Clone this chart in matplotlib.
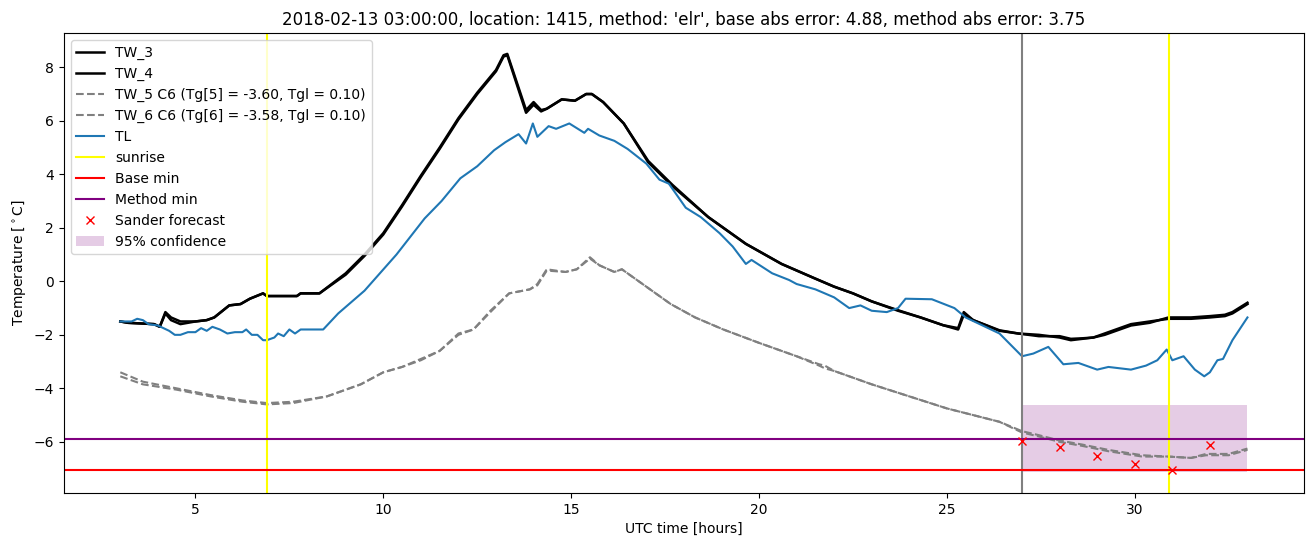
import matplotlib
matplotlib.use('Agg')
import matplotlib.pyplot as plt
import numpy as np

# TW_3 / TW_4 (black)
tw3_t = [3.0, 3.2, 3.9, 4.05, 4.2, 4.35, 4.6, 5.0, 5.3, 5.5, 5.9, 6.2, 6.45, 6.8, 6.9, 7.7, 7.8, 8.3,
         9.0, 9.5, 10.0, 10.5, 11.0, 11.5, 12.0, 12.5, 13.0, 13.2, 13.3, 13.8, 14.0, 14.2, 14.35, 14.75,
         15.1, 15.4, 15.55, 15.85, 16.4, 17.05, 17.7, 18.65, 19.65, 20.6, 21.5, 22.0, 22.5, 23.0, 23.7,
         24.3, 24.9, 25.3, 25.45, 25.7, 26.4, 26.9, 27.45, 28.0, 28.3, 28.6, 28.9, 29.2, 29.9, 30.4,
         30.9, 31.5, 32.0, 32.4, 32.6, 33.0]
tw3_v = [-1.5, -1.55, -1.6, -1.7, -1.15, -1.35, -1.5, -1.5, -1.45, -1.35, -0.9, -0.85, -0.65, -0.45,
         -0.55, -0.55, -0.45, -0.45, 0.3, 1.0, 1.8, 2.85, 3.95, 5.0, 6.1, 7.05, 7.9, 8.45, 8.5, 6.4, 6.7,
         6.4, 6.45, 6.8, 6.75, 7.0, 7.0, 6.7, 5.9, 4.5, 3.6, 2.4, 1.4, 0.65, 0.1, -0.2, -0.45, -0.75,
         -1.08, -1.35, -1.64, -1.75, -1.15, -1.45, -1.83, -1.95, -2.05, -2.05, -2.15, -2.13, -2.1, -2.0,
         -1.65, -1.55, -1.35, -1.35, -1.3, -1.25, -1.15, -0.8]
tw4_v = [-1.5, -1.55, -1.6, -1.7, -1.2, -1.45, -1.6, -1.5, -1.45, -1.35, -0.9, -0.85, -0.65, -0.45,
         -0.55, -0.55, -0.45, -0.45, 0.25, 0.95, 1.75, 2.8, 3.9, 4.95, 6.05, 7.0, 7.85, 8.4, 8.45, 6.3,
         6.6, 6.35, 6.45, 6.8, 6.75, 7.0, 7.0, 6.7, 5.9, 4.45, 3.55, 2.4, 1.4, 0.65, 0.1, -0.2, -0.45,
         -0.75, -1.1, -1.35, -1.64, -1.8, -1.25, -1.45, -1.85, -1.95, -2.0, -2.1, -2.2, -2.15, -2.1,
         -1.95, -1.6, -1.5, -1.4, -1.4, -1.35, -1.3, -1.2, -0.85]

# TW_5 / TW_6 (grey dashed)
tw5_t = [3.0, 3.6, 4.5, 5.4, 6.25, 6.9, 7.6, 8.5, 9.0, 9.4, 10.0, 10.5, 11.0, 11.5, 12.0, 12.4, 12.85,
         13.35, 13.9, 14.1, 14.35, 14.85, 15.15, 15.5, 15.75, 16.15, 16.35, 17.0, 17.65, 18.3, 19.05,
         20.0, 21.0, 21.6, 21.75, 22.0, 23.0, 24.0, 25.0, 26.4, 27.0, 27.45, 28.0, 28.6, 29.3, 30.2,
         30.9, 31.5, 31.9, 32.5, 33.0]
tw5_v = [-3.4, -3.75, -4.0, -4.25, -4.45, -4.55, -4.5, -4.3, -4.05, -3.85, -3.4, -3.2, -2.9, -2.6,
         -2.0, -1.8, -1.1, -0.45, -0.3, -0.1, 0.45, 0.35, 0.45, 0.9, 0.6, 0.35, 0.45, -0.2, -0.85, -1.35,
         -1.8, -2.3, -2.8, -3.1, -3.15, -3.35, -3.85, -4.3, -4.75, -5.25, -5.6, -5.75, -5.95, -6.1, -6.3,
         -6.5, -6.55, -6.6, -6.45, -6.45, -6.25]
tw6_v = [-3.55, -3.85, -4.05, -4.3, -4.5, -4.6, -4.55, -4.3, -4.05, -3.85, -3.4, -3.2, -2.95, -2.6,
         -1.95, -1.8, -1.15, -0.45, -0.3, -0.15, 0.4, 0.35, 0.45, 0.85, 0.6, 0.35, 0.45, -0.2, -0.85,
         -1.35, -1.8, -2.3, -2.8, -3.15, -3.25, -3.35, -3.85, -4.3, -4.75, -5.25, -5.65, -5.8, -6.0,
         -6.15, -6.35, -6.55, -6.55, -6.6, -6.5, -6.5, -6.3]

# TL (blue)
tl_t = [3.0, 3.3, 3.45, 3.6, 3.75, 4.0, 4.3, 4.45, 4.6, 4.8, 5.0, 5.15, 5.3, 5.45, 5.65, 5.85, 6.05,
        6.25, 6.35, 6.5, 6.65, 6.8, 6.9, 7.1, 7.2, 7.35, 7.5, 7.65, 7.8, 8.4, 8.8, 9.5, 10.35, 11.1,
        11.55, 12.05, 12.5, 12.95, 13.25, 13.6, 13.8, 13.98, 14.1, 14.4, 14.6, 14.95, 15.35, 15.45,
        15.75, 16.15, 16.5, 17.0, 17.35, 17.6, 18.05, 18.45, 18.95, 19.3, 19.65, 19.8, 20.35, 20.8,
        21.0, 21.5, 22.0, 22.4, 22.7, 23.0, 23.4, 23.7, 23.9, 24.6, 25.2, 25.5, 26.4, 27.0, 27.3, 27.7,
        28.1, 28.5, 29.0, 29.3, 29.9, 30.3, 30.6, 30.85, 31.0, 31.3, 31.6, 31.85, 32.0, 32.2, 32.35,
        32.6, 33.0]
tl_v = [-1.5, -1.5, -1.4, -1.45, -1.6, -1.65, -1.85, -2.0, -2.0, -1.9, -1.9, -1.75, -1.85, -1.7,
        -1.8, -1.95, -1.9, -1.9, -1.8, -2.0, -2.0, -2.2, -2.2, -2.1, -1.95, -2.05, -1.8, -1.95, -1.8,
        -1.8, -1.2, -0.35, 1.0, 2.35, 3.0, 3.85, 4.3, 4.9, 5.2, 5.5, 5.15, 5.9, 5.4, 5.8, 5.7, 5.9,
        5.55, 5.7, 5.45, 5.25, 4.95, 4.4, 3.8, 3.65, 2.75, 2.4, 1.8, 1.3, 0.65, 0.8, 0.3, 0.05, -0.1,
        -0.3, -0.6, -1.0, -0.9, -1.1, -1.15, -1.0, -0.65, -0.67, -1.0, -1.35, -1.95, -2.8, -2.7, -2.45,
        -3.1, -3.05, -3.3, -3.2, -3.3, -3.15, -2.95, -2.55, -2.95, -2.8, -3.3, -3.55, -3.4, -2.95,
        -2.9, -2.2, -1.35]

sunrise = [6.9, 30.9]
forecast_start = 27.0
base_min = -7.05
method_min = -5.9
sander_t = [27, 28, 29, 30, 31, 32]
sander_v = [-5.97, -6.21, -6.54, -6.84, -7.05, -6.12]
conf_t = [27.0, 33.0]
conf_lo = -7.13
conf_hi = -4.63

fig, ax = plt.subplots(figsize=(13.13, 5.47), dpi=100)
fig.subplots_adjust(left=0.0487, right=0.993, top=0.9397, bottom=0.0987)

ax.plot(tw3_t, tw3_v, color='black', lw=1.8, label='TW_3')
ax.plot(tw3_t, tw4_v, color='black', lw=1.8, label='TW_4')
ax.plot(tw5_t, tw5_v, color='gray', ls='--', lw=1.5, label='TW_5 C6 (Tg[5] = -3.60, Tgl = 0.10)')
ax.plot(tw5_t, tw6_v, color='gray', ls='--', lw=1.5, label='TW_6 C6 (Tg[6] = -3.58, Tgl = 0.10)')
ax.plot(tl_t, tl_v, color='tab:blue', lw=1.5, label='TL')
ax.axvline(sunrise[0], color='yellow', label='sunrise')
ax.axvline(sunrise[1], color='yellow')
ax.axvline(forecast_start, color='gray', lw=1.5)
ax.axhline(base_min, color='red', label='Base min')
ax.axhline(method_min, color='purple', label='Method min')
ax.plot(sander_t, sander_v, 'rx', label='Sander forecast')
ax.fill_between(conf_t, conf_lo, conf_hi, color='purple', alpha=0.2, lw=0, label='95% confidence')

ax.set_title("2018-02-13 03:00:00, location: 1415, method: 'elr', base abs error: 4.88, method abs error: 3.75")
ax.set_xlabel('UTC time [hours]')
ax.set_ylabel(r'Temperature [$^\circ$C]')
ax.legend(loc='upper left')

plt.savefig('out.png', dpi=100)
